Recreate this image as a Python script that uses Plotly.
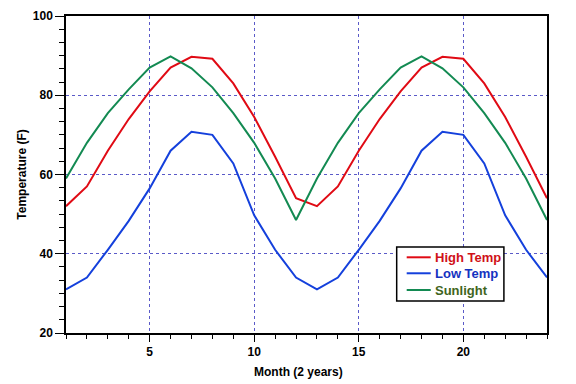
import plotly.graph_objects as go

months = list(range(1, 25))
high_temp = [52, 57, 66, 74, 81, 87, 89.7, 89.2, 83, 74.5, 64.5, 54,
             52, 57, 66, 74, 81, 87, 89.7, 89.2, 83, 74.5, 64.5, 54]
low_temp = [31, 34, 41, 48.3, 56.5, 66, 70.8, 70, 62.8, 49.7, 41, 34,
            31, 34, 41, 48.3, 56.5, 66, 70.8, 70, 62.8, 49.7, 41, 34]
sunlight = [59, 68, 75.5, 81.5, 87, 89.8, 86.8, 82, 75.5, 68, 59, 48.5,
            59, 68, 75.5, 81.5, 87, 89.8, 86.8, 82, 75.5, 68, 59, 48.5]
series_names = ["High Temp", "Low Temp", "Sunlight"]
line_colors = ["#e00a14", "#1440dc", "#138a52"]
text_colors = ["#d01018", "#1432c0", "#3f6420"]

FONT = "Arial, Liberation Sans, sans-serif"

fig = go.Figure()
for name, vals, lc in zip(series_names, [high_temp, low_temp, sunlight], line_colors):
    fig.add_trace(go.Scatter(
        x=months, y=vals, mode="lines", line=dict(color=lc, width=2),
        name=name, showlegend=False,
    ))

axis_common = dict(
    showline=True, linecolor="black", linewidth=1.5, mirror=True,
    ticks="outside", tickcolor="black", tickwidth=1.2,
    showgrid=True, gridcolor="#5a5ac8", gridwidth=1, griddash="dot",
    zeroline=False, automargin=False,
    tickfont=dict(family=FONT, size=12, color="black", weight="bold"),
)

fig.update_xaxes(
    range=[1, 24], tick0=0, dtick=5, ticklen=7,
    minor=dict(dtick=1, tick0=0, ticks="outside", ticklen=4, tickcolor="black", showgrid=False),
    **axis_common,
)
fig.update_yaxes(
    range=[20, 100], tick0=20, dtick=20, ticklen=9,
    minor=dict(dtick=20/6, tick0=20, ticks="outside", ticklen=5, tickcolor="black", showgrid=False),
    title=dict(text="Temperature (F)", standoff=4,
               font=dict(family=FONT, size=12, color="black", weight="bold")),
    **axis_common,
)

fig.add_annotation(xref="paper", yref="paper", x=0.483, y=-0.123,
                   text="Month (2 years)", showarrow=False,
                   xanchor="center", yanchor="middle",
                   font=dict(family=FONT, size=12, color="black", weight="bold"))

# legend drawn as a box with line samples and coloured labels (paper coords)
box_x0, box_x1, box_y0, box_y1 = 0.6875, 0.9104, 0.1009, 0.2713
row_y = [0.2388, 0.1884, 0.1356]
fig.add_shape(type="rect", xref="paper", yref="paper", x0=box_x0, x1=box_x1,
              y0=box_y0, y1=box_y1, line=dict(color="black", width=1.5),
              fillcolor="white", layer="above")
for name, lc, tc, ry in zip(series_names, line_colors, text_colors, row_y):
    fig.add_shape(type="line", xref="paper", yref="paper", x0=0.7083, x1=0.7583,
                  y0=ry, y1=ry, line=dict(color=lc, width=2), layer="above")
    fig.add_annotation(xref="paper", yref="paper", x=0.7625, y=ry, text=name,
                       showarrow=False, xanchor="left", yanchor="middle",
                       font=dict(family=FONT, size=13, color=tc, weight="bold"))

# the page body has an 8px margin, so margins are offset to place the plot area
fig.update_layout(
    width=576, height=384,
    margin=dict(l=58, r=37, t=8, b=59),
    plot_bgcolor="white", paper_bgcolor="white",
    showlegend=False,
)

fig.write_html("out.html")
